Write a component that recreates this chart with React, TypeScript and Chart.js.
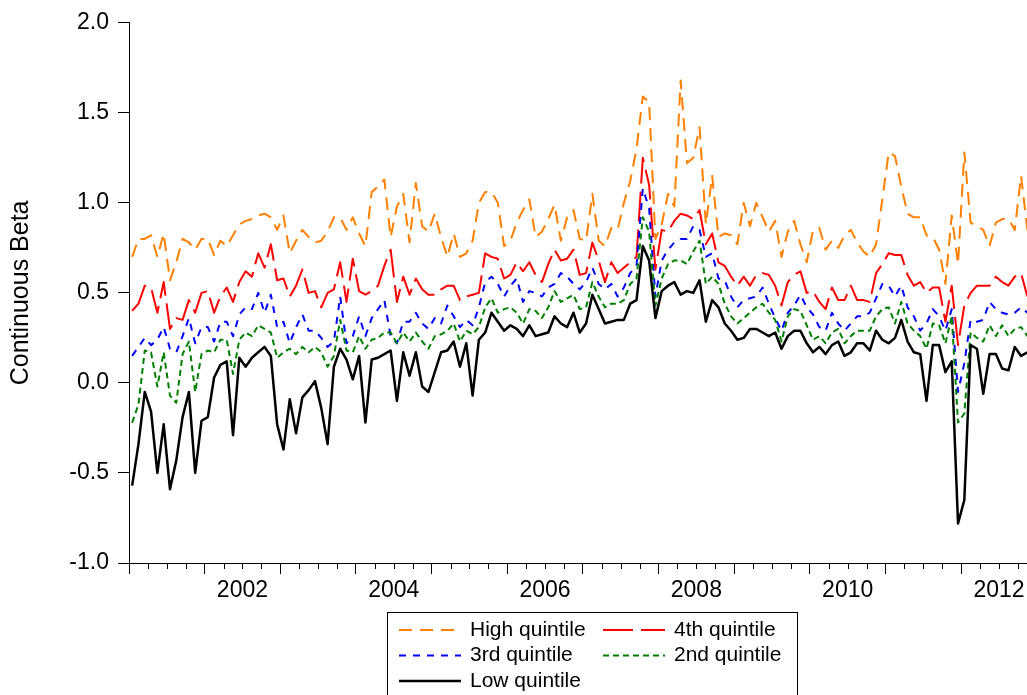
import React, { useEffect, useRef } from 'react';
import { Chart, registerables } from 'chart.js';

Chart.register(...registerables);

// Monthly observations, Jan 2001 – Dec 2012
const months: string[] = [];
for (let y = 2001; y <= 2012; y++) {
  for (let m = 1; m <= 12; m++) months.push(`${y}-${String(m).padStart(2, '0')}`);
}

const highQuintile = [
  0.70, 0.80, 0.80, 0.82, 0.70, 0.83, 0.57, 0.67, 0.80, 0.78,
  0.74, 0.80, 0.80, 0.71, 0.79, 0.76, 0.82, 0.88, 0.90, 0.91,
  0.93, 0.94, 0.92, 0.85, 0.93, 0.72, 0.79, 0.85, 0.81, 0.78,
  0.79, 0.84, 0.92, 0.92, 0.85, 0.92, 0.83, 0.76, 1.06, 1.09,
  1.13, 0.81, 0.98, 1.05, 0.78, 1.11, 0.87, 0.84, 0.94, 0.81,
  0.70, 0.83, 0.70, 0.72, 0.79, 1.00, 1.06, 1.06, 1.00, 0.76,
  0.79, 0.89, 0.96, 1.02, 0.81, 0.84, 0.91, 0.99, 0.79, 0.92,
  0.96, 0.80, 0.79, 1.05, 0.79, 0.76, 0.86, 0.85, 1.00, 1.12,
  1.30, 1.59, 1.56, 0.80, 0.88, 1.05, 0.98, 1.68, 1.22, 1.25,
  1.42, 0.88, 1.15, 0.81, 0.83, 0.82, 0.77, 1.00, 0.87, 1.00,
  0.92, 0.84, 0.90, 0.70, 0.84, 0.90, 0.77, 0.67, 0.85, 0.86,
  0.74, 0.79, 0.75, 0.82, 0.85, 0.78, 0.73, 0.70, 0.77, 1.02,
  1.28, 1.26, 1.09, 0.94, 0.92, 0.92, 0.82, 0.81, 0.74, 0.55,
  0.93, 0.66, 1.28, 0.89, 0.87, 0.85, 0.76, 0.89, 0.91, 0.91,
  0.85, 1.15, 0.85, 0.88,
];

const fourthQuintile = [
  0.40, 0.44, 0.54, 0.53, 0.39, 0.56, 0.30, 0.36, 0.35, 0.46,
  0.39, 0.50, 0.51, 0.39, 0.48, 0.53, 0.45, 0.56, 0.62, 0.59,
  0.72, 0.64, 0.77, 0.57, 0.58, 0.48, 0.54, 0.63, 0.50, 0.51,
  0.42, 0.50, 0.52, 0.67, 0.45, 0.69, 0.51, 0.49, 0.51, 0.54,
  0.65, 0.74, 0.45, 0.59, 0.49, 0.58, 0.52, 0.49, 0.49, 0.52,
  0.54, 0.54, 0.46, 0.48, 0.49, 0.50, 0.72, 0.70, 0.69, 0.58,
  0.60, 0.67, 0.62, 0.67, 0.60, 0.56, 0.66, 0.74, 0.68, 0.69,
  0.74, 0.60, 0.61, 0.78, 0.68, 0.56, 0.67, 0.61, 0.64, 0.67,
  0.70, 1.25, 1.10, 0.63, 0.85, 0.84, 0.90, 0.94, 0.93, 0.91,
  0.96, 0.77, 0.83, 0.67, 0.65, 0.59, 0.54, 0.59, 0.54, 0.60,
  0.61, 0.60, 0.54, 0.43, 0.56, 0.60, 0.62, 0.50, 0.51, 0.45,
  0.41, 0.53, 0.46, 0.46, 0.54, 0.46, 0.46, 0.45, 0.61, 0.66,
  0.72, 0.71, 0.71, 0.60, 0.54, 0.56, 0.50, 0.53, 0.53, 0.34,
  0.54, 0.21, 0.43, 0.50, 0.54, 0.54, 0.54, 0.59, 0.56, 0.54,
  0.59, 0.61, 0.48, 0.50,
];

const thirdQuintile = [
  0.15, 0.20, 0.25, 0.21, 0.24, 0.31, 0.19, 0.17, 0.26, 0.36,
  0.22, 0.31, 0.31, 0.23, 0.34, 0.34, 0.26, 0.38, 0.42, 0.41,
  0.50, 0.39, 0.49, 0.31, 0.34, 0.22, 0.31, 0.38, 0.29, 0.29,
  0.25, 0.20, 0.23, 0.48, 0.22, 0.26, 0.37, 0.26, 0.36, 0.41,
  0.46, 0.26, 0.22, 0.34, 0.34, 0.39, 0.33, 0.30, 0.36, 0.33,
  0.43, 0.37, 0.31, 0.35, 0.32, 0.42, 0.56, 0.59, 0.55, 0.48,
  0.54, 0.58, 0.45, 0.51, 0.50, 0.48, 0.53, 0.55, 0.61, 0.59,
  0.55, 0.52, 0.56, 0.64, 0.55, 0.52, 0.55, 0.48, 0.53, 0.61,
  0.65, 1.08, 0.97, 0.48, 0.68, 0.74, 0.78, 0.80, 0.80, 0.87,
  0.85, 0.70, 0.72, 0.58, 0.57, 0.48, 0.42, 0.46, 0.47, 0.48,
  0.53, 0.44, 0.36, 0.29, 0.39, 0.43, 0.49, 0.42, 0.38, 0.31,
  0.29, 0.39, 0.33, 0.29, 0.33, 0.37, 0.37, 0.39, 0.47, 0.55,
  0.54, 0.48, 0.54, 0.42, 0.37, 0.29, 0.33, 0.41, 0.37, 0.29,
  0.41, -0.05, 0.11, 0.35, 0.34, 0.35, 0.45, 0.41, 0.39, 0.38,
  0.39, 0.42, 0.39, 0.40,
];

const secondQuintile = [
  -0.22, -0.12, 0.18, 0.17, -0.02, 0.17, -0.07, -0.11, 0.16, 0.23,
  -0.05, 0.16, 0.18, 0.17, 0.24, 0.24, 0.05, 0.24, 0.28, 0.26,
  0.32, 0.30, 0.28, 0.14, 0.17, 0.19, 0.16, 0.20, 0.17, 0.20,
  0.17, 0.09, 0.15, 0.35, 0.18, 0.17, 0.26, 0.19, 0.24, 0.25,
  0.28, 0.28, 0.22, 0.28, 0.23, 0.28, 0.23, 0.19, 0.26, 0.27,
  0.29, 0.33, 0.23, 0.29, 0.27, 0.31, 0.42, 0.47, 0.39, 0.41,
  0.42, 0.39, 0.33, 0.41, 0.40, 0.36, 0.42, 0.51, 0.45, 0.47,
  0.49, 0.41, 0.42, 0.56, 0.48, 0.42, 0.44, 0.44, 0.46, 0.55,
  0.58, 0.92, 0.84, 0.43, 0.58, 0.66, 0.68, 0.68, 0.66, 0.73,
  0.79, 0.55, 0.59, 0.55, 0.44, 0.37, 0.33, 0.36, 0.39, 0.42,
  0.44, 0.39, 0.35, 0.23, 0.37, 0.41, 0.40, 0.32, 0.24, 0.26,
  0.22, 0.28, 0.30, 0.22, 0.26, 0.29, 0.29, 0.29, 0.37, 0.41,
  0.42, 0.33, 0.45, 0.33, 0.29, 0.26, 0.19, 0.33, 0.32, 0.22,
  0.37, -0.22, -0.17, 0.28, 0.25, 0.23, 0.32, 0.26, 0.32, 0.26,
  0.30, 0.31, 0.26, 0.28,
];

const lowQuintile = [
  -0.57, -0.34, -0.05, -0.16, -0.50, -0.23, -0.59, -0.43, -0.19, -0.05,
  -0.50, -0.21, -0.19, 0.03, 0.10, 0.12, -0.29, 0.14, 0.09, 0.14,
  0.17, 0.20, 0.15, -0.23, -0.37, -0.09, -0.28, -0.08, -0.04, 0.01,
  -0.14, -0.34, 0.09, 0.19, 0.13, 0.02, 0.15, -0.22, 0.13, 0.14,
  0.16, 0.18, -0.10, 0.17, 0.04, 0.17, -0.02, -0.05, 0.06, 0.17,
  0.18, 0.23, 0.09, 0.22, -0.07, 0.24, 0.28, 0.39, 0.34, 0.29,
  0.32, 0.30, 0.26, 0.32, 0.26, 0.27, 0.28, 0.37, 0.33, 0.31,
  0.39, 0.28, 0.33, 0.49, 0.41, 0.33, 0.34, 0.35, 0.35, 0.44,
  0.46, 0.76, 0.68, 0.36, 0.51, 0.54, 0.56, 0.49, 0.51, 0.50,
  0.57, 0.34, 0.46, 0.42, 0.33, 0.29, 0.24, 0.25, 0.30, 0.30,
  0.28, 0.26, 0.28, 0.19, 0.26, 0.29, 0.29, 0.22, 0.17, 0.20,
  0.16, 0.21, 0.23, 0.15, 0.17, 0.22, 0.22, 0.18, 0.29, 0.24,
  0.22, 0.25, 0.35, 0.23, 0.17, 0.16, -0.10, 0.21, 0.21, 0.06,
  0.12, -0.78, -0.65, 0.21, 0.19, -0.06, 0.16, 0.16, 0.08, 0.07,
  0.20, 0.15, 0.17, 0.18,
];

const seriesLabels = ['High quintile', '4th quintile', '3rd quintile', '2nd quintile', 'Low quintile'];
const seriesColors = ['#FF8000', '#FF0000', '#0000FF', '#008000', '#000000'];
const seriesDashes: number[][] = [[13, 8], [30, 8], [7, 7], [6, 4], []];
const seriesWidths = [2, 2, 2, 2, 2.5];

const yTickValues = [-1, -0.5, 0, 0.5, 1, 1.5, 2];
const yearTicks = [2001, 2002, 2003, 2004, 2005, 2006, 2007, 2008, 2009, 2010, 2011, 2012];
const labeledYears = [2002, 2004, 2006, 2008, 2010, 2012];

const X_MIN = 2001;
const X_MAX = 2012.87;
const FONT = '"Liberation Sans", Arial, Helvetica, sans-serif';

const toDecimalYear = (s: string) => {
  const [y, m] = s.split('-').map(Number);
  return y + (m - 0.5) / 12;
};

const minorTicksPlugin = {
  id: 'minorTicks',
  afterDraw(chart: any) {
    const xs = chart.scales.x;
    const { ctx, chartArea } = chart;
    ctx.save();
    ctx.strokeStyle = '#000';
    ctx.lineWidth = 1;
    ctx.setLineDash([]);
    for (const yr of yearTicks) {
      for (const q of [0.25, 0.5, 0.75]) {
        const v = yr + q;
        if (v > X_MAX) continue;
        const px = Math.round(xs.getPixelForValue(v)) + 0.5;
        ctx.beginPath();
        ctx.moveTo(px, chartArea.bottom);
        ctx.lineTo(px, chartArea.bottom + 6);
        ctx.stroke();
      }
    }
    ctx.restore();
  },
};

const LEGEND_BOX = { left: 387, top: 612, right: 797 };
const LEGEND_COL_X = [399, 603];
const LEGEND_ROW_Y = [630, 655.5, 681];

const boxLegendPlugin = {
  id: 'boxLegend',
  afterDraw(chart: any) {
    const ctx = chart.ctx;
    ctx.save();
    ctx.setLineDash([]);
    ctx.strokeStyle = '#000';
    ctx.lineWidth = 1;
    ctx.strokeRect(LEGEND_BOX.left + 0.5, LEGEND_BOX.top + 0.5, LEGEND_BOX.right - LEGEND_BOX.left, 120);
    ctx.font = `21px ${FONT}`;
    ctx.textBaseline = 'middle';
    ctx.textAlign = 'left';
    chart.data.datasets.forEach((ds: any, i: number) => {
      const col = i % 2;
      const row = Math.floor(i / 2);
      const x0 = LEGEND_COL_X[col];
      const y0 = LEGEND_ROW_Y[row];
      ctx.beginPath();
      ctx.strokeStyle = ds.borderColor;
      ctx.lineWidth = ds.borderWidth;
      ctx.setLineDash(ds.borderDash || []);
      ctx.moveTo(x0, y0);
      ctx.lineTo(x0 + 62, y0);
      ctx.stroke();
      ctx.setLineDash([]);
      ctx.fillStyle = '#000';
      ctx.fillText(ds.label, x0 + 71, y0);
    });
    ctx.restore();
  },
};

export default function App() {
  const canvasRef = useRef<HTMLCanvasElement | null>(null);

  useEffect(() => {
    document.body.style.margin = '0';
    const canvas = canvasRef.current;
    if (!canvas) return;
    const xs = months.map(toDecimalYear);
    const allSeries = [highQuintile, fourthQuintile, thirdQuintile, secondQuintile, lowQuintile];
    const datasets = allSeries.map((vals, i) => ({
      label: seriesLabels[i],
      data: vals.map((v, j) => ({ x: xs[j], y: v })),
      borderColor: seriesColors[i],
      backgroundColor: seriesColors[i],
      borderWidth: seriesWidths[i],
      borderDash: seriesDashes[i],
      borderJoinStyle: 'round' as const,
      pointRadius: 0,
      pointHoverRadius: 0,
      tension: 0,
      fill: false,
      order: allSeries.length - i,
    }));

    const chart = new Chart(canvas, {
      type: 'line',
      data: { datasets },
      options: {
        animation: false,
        responsive: false,
        events: [],
        layout: { padding: { left: 0, right: 0, top: 22, bottom: 92 } },
        font: { family: FONT },
        plugins: {
          legend: { display: false },
          tooltip: { enabled: false },
        },
        scales: {
          x: {
            type: 'linear',
            min: X_MIN,
            max: X_MAX,
            afterBuildTicks: (scale: any) => {
              scale.ticks = yearTicks.filter((v) => v <= X_MAX).map((v) => ({ value: v }));
            },
            afterFit: (scale: any) => {
              scale.height = 40;
              scale.paddingLeft = 0;
              scale.paddingRight = 0;
            },
            grid: {
              drawOnChartArea: false,
              drawTicks: true,
              tickLength: 11,
              tickColor: '#000',
              tickWidth: 1,
            },
            border: { display: true, color: '#000', width: 1 },
            ticks: {
              autoSkip: false,
              maxRotation: 0,
              minRotation: 0,
              padding: 3,
              labelOffset: 37.8,
              color: '#000',
              font: { family: FONT, size: 23 },
              callback: (v: any) => (labeledYears.includes(Number(v)) ? String(v) : ''),
            },
          },
          y: {
            type: 'linear',
            min: -1,
            max: 2,
            afterBuildTicks: (scale: any) => {
              scale.ticks = yTickValues.map((v) => ({ value: v }));
            },
            afterFit: (scale: any) => {
              scale.width = 129;
            },
            grid: {
              drawOnChartArea: false,
              drawTicks: true,
              tickLength: 11,
              tickColor: '#000',
              tickWidth: 1,
            },
            border: { display: true, color: '#000', width: 1 },
            ticks: {
              padding: 9,
              color: '#000',
              font: { family: FONT, size: 23 },
              callback: (v: any) => Number(v).toFixed(1),
            },
            title: {
              display: true,
              text: 'Continuous Beta',
              color: '#000',
              font: { family: FONT, size: 25 },
              padding: { top: 6, bottom: 0 },
            },
          },
        },
      },
      plugins: [minorTicksPlugin, boxLegendPlugin],
    });

    return () => {
      chart.destroy();
    };
  }, []);

  return (
    <div style={{ width: 1027, height: 695, position: 'relative', overflow: 'hidden' }}>
      <canvas ref={canvasRef} width={1027} height={695} style={{ display: 'block' }} />
    </div>
  );
}
